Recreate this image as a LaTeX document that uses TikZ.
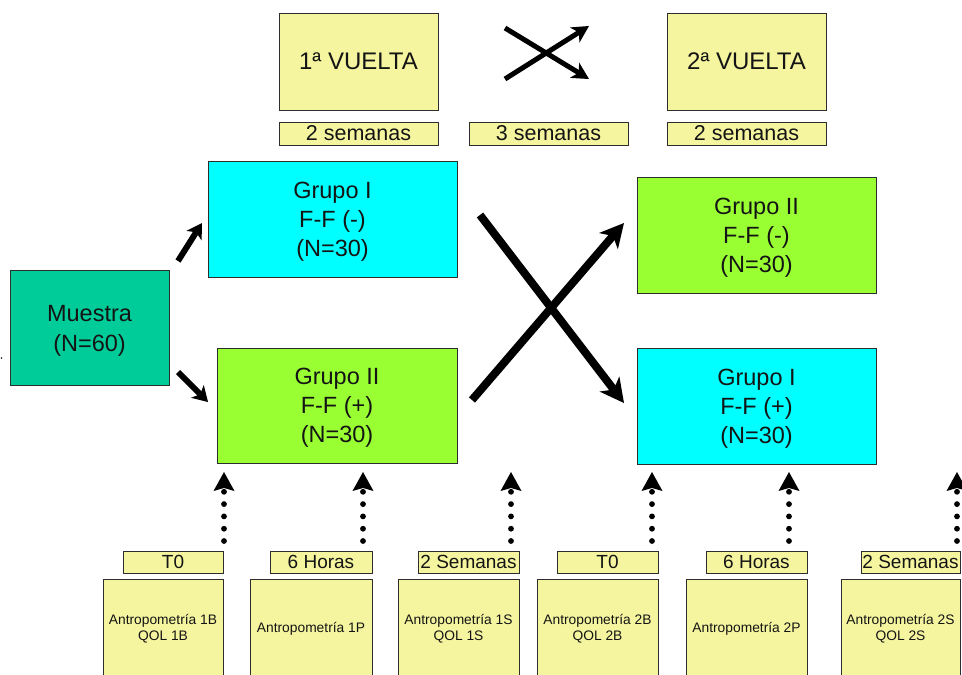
\documentclass[tikz,border=0pt]{standalone}
\usepackage{fontspec}
\setmainfont{Liberation Sans}
\usetikzlibrary{arrows.meta}
\definecolor{paleyellow}{RGB}{245,245,160}
\definecolor{cyanbox}{RGB}{0,255,255}
\definecolor{limebox}{RGB}{153,255,51}
\definecolor{tealbox}{RGB}{0,204,153}
\definecolor{edge}{RGB}{45,45,45}
\definecolor{ink}{RGB}{20,20,20}

\begin{document}
\begin{tikzpicture}[x=1pt,y=-1pt,
  box/.style={draw=edge, line width=1pt, inner sep=0pt, align=center, text=ink},
  titletxt/.style={font=\fontsize{24}{28}\selectfont},
  bigtxt/.style={font=\fontsize{23.5}{29}\selectfont},
  midtxt/.style={font=\fontsize{19}{22}\selectfont},
  spantxt/.style={font=\fontsize{21.5}{24}\selectfont},
  smalltxt/.style={font=\fontsize{13.8}{16.5}\selectfont},
  roundbox/.style={box, fill=paleyellow, minimum width=159pt, minimum height=97pt, titletxt},
  spanbox/.style={box, fill=paleyellow, minimum width=159pt, minimum height=23pt, spantxt},
  groupbox/.style={box, bigtxt, text depth=0pt},
  tagbox/.style={box, fill=paleyellow, minimum height=22pt, midtxt},
  testbox/.style={box, fill=paleyellow, minimum height=98pt, smalltxt},
  dotarrow/.style={line width=5.8pt, line cap=round, dash pattern=on 0pt off 12.3pt,
    -{Stealth[length=19pt,width=21pt,inset=3pt,line width=0pt]}},
  bigarrow/.style={line width=8pt, -{Stealth[length=24pt,width=25pt,inset=7pt,line width=0pt]}},
  midarrow/.style={line width=6pt, -{Stealth[length=15pt,width=18pt,inset=4pt,line width=0pt]}},
  smallarrow/.style={line width=5pt, -{Stealth[length=17pt,width=18pt,inset=5pt,line width=0pt]}}
]
\useasboundingbox (0,0) rectangle (962,675);
\clip (0,0) rectangle (962,675);
\fill[white] (0,0) rectangle (962,675);

% header: the two rounds and their durations
\node[roundbox] (v1) at (358.5,61.5) {1ª VUELTA};
\node[roundbox] (v2) at (746.5,61.5) {2ª VUELTA};
\node[spanbox] (w1) at (358.5,133.5) {2 semanas};
\node[spanbox] (w2) at (548.5,133.5) {3 semanas};
\node[spanbox] (w3) at (746.5,133.5) {2 semanas};

% crossover symbol between the rounds
\coordinate (ta1) at (505,28);  \coordinate (ta2) at (589,79);
\coordinate (tb1) at (505,79);  \coordinate (tb2) at (589,26);
\draw[smallarrow] (ta1) -- (ta2);
\draw[smallarrow] (tb1) -- (tb2);

% sample and groups
\node[groupbox, fill=tealbox, minimum width=159pt, minimum height=115pt,
      font=\fontsize{23.5}{30}\selectfont] (m) at (89.5,328) {Muestra\\(N=60)};
\node[groupbox, fill=cyanbox, minimum width=249pt, minimum height=116pt] (g1) at (332.5,219) {Grupo I\\F-F (-)\\(N=30)};
\node[groupbox, fill=limebox, minimum width=240pt, minimum height=115pt] (g2) at (337,405.5) {Grupo II\\F-F (+)\\(N=30)};
\node[groupbox, fill=limebox, minimum width=239pt, minimum height=116pt] (g3) at (756.5,235) {Grupo II\\F-F (-)\\(N=30)};
\node[groupbox, fill=cyanbox, minimum width=239pt, minimum height=116pt] (g4) at (756.5,406) {Grupo I\\F-F (+)\\(N=30)};

% randomisation arrows
\coordinate (ma1) at (178,261); \coordinate (ma2) at (202,223);
\coordinate (mb1) at (178,372); \coordinate (mb2) at (208,402);
\draw[midarrow] (ma1) -- (ma2);
\draw[midarrow] (mb1) -- (mb2);

% crossover arrows
\coordinate (xa1) at (480,215); \coordinate (xa2) at (624,403);
\coordinate (xb1) at (472,400); \coordinate (xb2) at (624,223);
\draw[bigarrow] (xa1) -- (xa2);
\draw[bigarrow] (xb1) -- (xb2);

% measurement times
\node[tagbox, minimum width=100pt] (t1) at (173,562) {T0};
\node[tagbox, minimum width=102pt] (t2) at (321,562) {6 Horas};
\node[tagbox, minimum width=101pt] (t3) at (468.5,562) {2 Semanas};
\node[tagbox, minimum width=101pt] (t4) at (607.5,562) {T0};
\node[tagbox, minimum width=101pt] (t5) at (756.5,562) {6 Horas};
\node[tagbox, minimum width=99pt] (t6) at (910.5,562) {2 Semanas};

% measurements taken
\node[testbox, minimum width=120pt] (b1) at (163,628.5) {Antropometría 1B\\QOL 1B};
\node[testbox, minimum width=122pt] (b2) at (311,628.5) {Antropometría 1P};
\node[testbox, minimum width=121pt] (b3) at (458.5,628.5) {Antropometría 1S\\QOL 1S};
\node[testbox, minimum width=121pt] (b4) at (597.5,628.5) {Antropometría 2B\\QOL 2B};
\node[testbox, minimum width=121pt] (b5) at (746.5,628.5) {Antropometría 2P};
\node[testbox, minimum width=119pt] (b6) at (900.5,628.5) {Antropometría 2S\\QOL 2S};

% dotted arrows from the time tags up to the groups
\foreach \i/\x in {1/224,2/363,3/511,4/652,5/789,6/957}{
  \coordinate (d\i s) at (\x,541);
  \coordinate (d\i e) at (\x,472);
  \draw[dotarrow] (d\i s) -- (d\i e);
}

% stray mark at the left edge
\fill[ink] (1.5,358) circle (0.8);
\end{tikzpicture}
\end{document}
